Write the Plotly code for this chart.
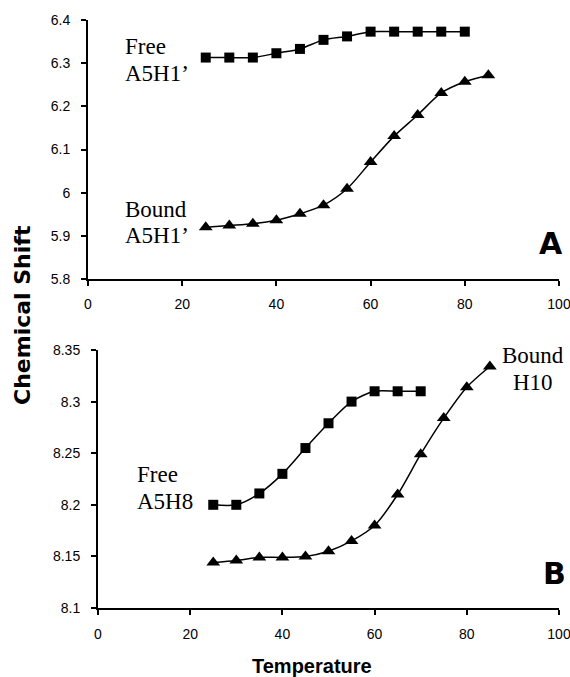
import plotly.graph_objects as go

# Panel A data
temp_free_a = [25, 30, 35, 40, 45, 50, 55, 60, 65, 70, 75, 80]
shift_free_a = [6.313, 6.313, 6.313, 6.323, 6.333, 6.354, 6.362, 6.373, 6.373, 6.373, 6.373, 6.373]
temp_bound_a = [25, 30, 35, 40, 45, 50, 55, 60, 65, 70, 75, 80, 85]
shift_bound_a = [5.920, 5.924, 5.928, 5.936, 5.951, 5.971, 6.009, 6.071, 6.131, 6.180, 6.231, 6.257, 6.272]

# Panel B data
temp_free_b = [25, 30, 35, 40, 45, 50, 55, 60, 65, 70]
shift_free_b = [8.200, 8.200, 8.211, 8.230, 8.255, 8.279, 8.300, 8.310, 8.310, 8.310]
temp_bound_b = [25, 30, 35, 40, 45, 50, 55, 60, 65, 70, 75, 80, 85]
shift_bound_b = [8.144, 8.146, 8.149, 8.149, 8.150, 8.155, 8.165, 8.180, 8.210, 8.249, 8.284, 8.314, 8.334]

x_ticks = [0, 20, 40, 60, 80, 100]
y_ticks_a = [5.8, 5.9, 6.0, 6.1, 6.2, 6.3, 6.4]
y_ticklabels_a = ["5.8", "5.9", "6", "6.1", "6.2", "6.3", "6.4"]
y_ticks_b = [8.1, 8.15, 8.2, 8.25, 8.3, 8.35]
y_ticklabels_b = ["8.1", "8.15", "8.2", "8.25", "8.3", "8.35"]

W, H = 570, 677

def px_x(p):
    return p / W

def px_y(p):
    return 1 - p / H

fig = go.Figure()

line_style = dict(color="black", width=1.5, shape="spline", smoothing=0.8)
sq = dict(symbol="square", size=10, color="black")
tri = dict(symbol="triangle-up", size=12, color="black")

fig.add_trace(go.Scatter(x=temp_free_a, y=shift_free_a, mode="lines+markers",
                         line=line_style, marker=sq, xaxis="x", yaxis="y", showlegend=False))
fig.add_trace(go.Scatter(x=temp_bound_a, y=shift_bound_a, mode="lines+markers",
                         line=line_style, marker=tri, xaxis="x", yaxis="y", showlegend=False))
fig.add_trace(go.Scatter(x=temp_free_b, y=shift_free_b, mode="lines+markers",
                         line=line_style, marker=sq, xaxis="x2", yaxis="y2", showlegend=False))
fig.add_trace(go.Scatter(x=temp_bound_b, y=shift_bound_b, mode="lines+markers",
                         line=line_style, marker=tri, xaxis="x2", yaxis="y2", showlegend=False))

tickfont = dict(family="Liberation Sans, Arial, sans-serif", size=14, color="black")
axis_common = dict(showline=True, linecolor="black", linewidth=2, showgrid=False,
                   zeroline=False, ticks="outside", ticklen=5, tickwidth=2,
                   tickcolor="black", tickfont=tickfont, automargin=False,
                   ticklabeloverflow="allow")

fig.update_layout(
    template="none",
    width=W, height=H,
    margin=dict(l=0, r=0, t=0, b=0, pad=0, autoexpand=False),
    paper_bgcolor="white", plot_bgcolor="white",
    xaxis=dict(domain=[px_x(88), px_x(559)], range=[0, 100], tickvals=x_ticks,
               anchor="y", ticklabelstandoff=6, **axis_common),
    yaxis=dict(domain=[px_y(279), px_y(20)], range=[5.8, 6.4], tickvals=y_ticks_a,
               ticktext=y_ticklabels_a, anchor="x", ticklabelstandoff=8, **axis_common),
    xaxis2=dict(domain=[px_x(98), px_x(559)], range=[0, 100], tickvals=x_ticks,
                anchor="y2", ticklabelstandoff=7, **axis_common),
    yaxis2=dict(domain=[px_y(608), px_y(350)], range=[8.1, 8.35], tickvals=y_ticks_b,
                ticktext=y_ticklabels_b, anchor="x2", ticklabelstandoff=8, **axis_common),
)

serif = dict(family="Liberation Serif, Times New Roman, serif", size=23, color="black")
bold_sans = dict(family="DejaVu Sans, Verdana, sans-serif", size=30, color="black")

def ann(text, x, y, font, xanchor="left", textangle=0):
    fig.add_annotation(text=text, x=px_x(x), y=px_y(y), xref="paper", yref="paper",
                       showarrow=False, font=font, xanchor=xanchor, yanchor="middle",
                       textangle=textangle)

# Panel A labels
ann("Free", 123, 47, serif)
ann("A5H1’", 123, 73, serif)
ann("Bound", 123, 209, serif)
ann("A5H1’", 123, 236, serif)
ann("<b>A</b>", 551, 243, bold_sans, xanchor="center")

# Panel B labels
ann("Free", 135, 474, serif)
ann("A5H8", 135, 501, serif)
ann("Bound", 533, 355, serif, xanchor="center")
ann("H10", 533, 382, serif, xanchor="center")
ann("<b>B</b>", 554, 573, bold_sans, xanchor="center")

# Axis titles
ann("<b>Chemical Shift</b>", 22, 315,
    dict(family="DejaVu Sans, Verdana, sans-serif", size=22, color="black"),
    xanchor="center", textangle=-90)
ann("<b>Temperature</b>", 312, 666,
    dict(family="Liberation Sans, Arial, sans-serif", size=20, color="black"),
    xanchor="center")

# Remove the page's default body margin so the figure fills the window exactly.
fig.write_html("out.html",
               config={"displayModeBar": False},
               post_script="document.body.style.margin='0';"
                           "document.documentElement.style.overflow='hidden';")
